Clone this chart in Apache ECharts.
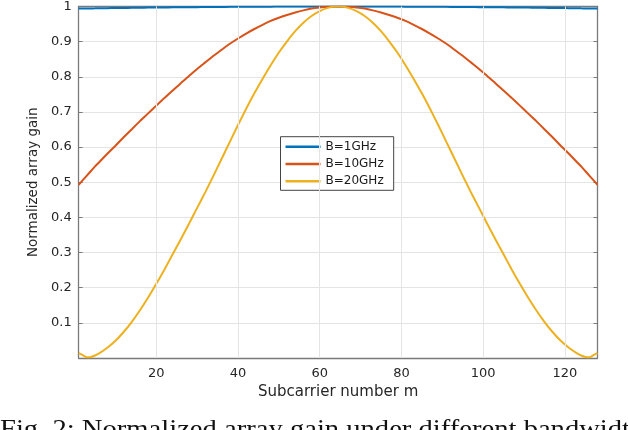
<!DOCTYPE html>
<html>
<head>
<meta charset="utf-8">
<script src="https://cdn.jsdelivr.net/npm/echarts@6/dist/echarts.min.js"></script>
<style>html,body{margin:0;padding:0;background:#fff;}#c{width:628px;height:430px;}</style>
</head>
<body>
<div id="c"></div>
<script>
// Subcarrier indices
var subcarriers = [1,2,3,4,5,6,8,10,12,14,16,18,20,22,24,26,28,30,32,34,36,38,40,42,44,46,48,50,52,54,56,58,60,62,64,
  65,67,69,71,73,75,77,79,81,83,85,87,89,91,93,95,97,99,101,103,105,107,109,111,113,115,117,119,121,123,124,125,126,127,128];

// B = 1 GHz
var gain1GHz = [0.994,0.9942,0.9944,0.9946,0.9947,0.9949,0.9953,0.9956,0.9959,0.9962,0.9965,0.9968,0.9971,0.9973,0.9976,0.9978,0.998,0.9982,0.9984,0.9986,0.9988,0.999,0.9991,0.9992,0.9994,0.9995,0.9996,0.9997,0.9998,0.9998,0.9999,0.9999,1,1,1,
  1,1,1,0.9999,0.9999,0.9998,0.9998,0.9997,0.9996,0.9995,0.9994,0.9992,0.9991,0.999,0.9988,0.9986,0.9984,0.9982,0.998,0.9978,0.9976,0.9973,0.9971,0.9968,0.9965,0.9962,0.9959,0.9956,0.9953,0.9949,0.9947,0.9946,0.9944,0.9942,0.994];

// B = 10 GHz
var gain10GHz = [0.493,0.506,0.519,0.532,0.545,0.557,0.581,0.604,0.628,0.651,0.674,0.696,0.718,0.74,0.761,0.782,0.802,0.822,0.841,0.86,0.877,0.894,0.909,0.923,0.936,0.948,0.959,0.968,0.976,0.983,0.989,0.994,0.997,0.999,1,
  1,0.999,0.997,0.994,0.989,0.983,0.976,0.968,0.959,0.948,0.936,0.923,0.909,0.894,0.877,0.86,0.841,0.822,0.802,0.782,0.761,0.74,0.718,0.696,0.674,0.651,0.628,0.604,0.581,0.557,0.545,0.532,0.519,0.506,0.493];

// B = 20 GHz
var gain20GHz = [0.014,0.008,0.002,0.003,0.007,0.013,0.029,0.049,0.074,0.103,0.136,0.172,0.211,0.252,0.295,0.338,0.382,0.427,0.472,0.519,0.567,0.615,0.663,0.709,0.753,0.794,0.833,0.869,0.901,0.93,0.954,0.973,0.987,0.996,1,
  1,0.996,0.987,0.973,0.954,0.93,0.901,0.869,0.833,0.794,0.753,0.709,0.663,0.615,0.567,0.519,0.472,0.427,0.382,0.338,0.295,0.252,0.211,0.172,0.136,0.103,0.074,0.049,0.029,0.013,0.007,0.003,0.002,0.008,0.014];

var xTicks = [20,40,60,80,100,120];
var seriesNames = ['B=1GHz','B=10GHz','B=20GHz'];
var seriesColors = ['#0072BD','#D95319','#EDB120'];
var xName = 'Subcarrier number m';
var yName = 'Normalized array gain';
var captionText = 'Fig. 2: Normalized array gain under different bandwidth';

function pairs(vals){ return subcarriers.map(function(m,i){ return [m, vals[i]]; }); }

var axisCol = '#7a7a7a';
var gridCol = '#e4e4e4';
var font = 'DejaVu Sans';
var chart = echarts.init(document.getElementById('c'), null, {renderer:'canvas'});
var allVals = [gain1GHz, gain10GHz, gain20GHz];

var series = [{
  name:'_grid', type:'line', data:[], z:1, silent:true,
  markLine:{
    silent:true, symbol:['none','none'], animation:false,
    label:{show:false},
    lineStyle:{color:gridCol, type:'solid', width:1},
    emphasis:{disabled:true},
    data: xTicks.map(function(v){ return {xAxis:v}; })
  }
}].concat(seriesNames.map(function(n,i){
  return {
    name:n, type:'line', data:pairs(allVals[i]), showSymbol:false, symbol:'none',
    smooth:0.2, lineStyle:{color:seriesColors[i], width:2}, itemStyle:{color:seriesColors[i]},
    z: 3
  };
}));

chart.setOption({
  animation:false,
  backgroundColor:'#fff',
  grid:{left:78.7, right:30.5, top:5, bottom:72, containLabel:false},
  xAxis:[{
    type:'value', min:1, max:128, position:'bottom',
    name:xName, nameLocation:'middle', nameGap:27,
    nameTextStyle:{fontFamily:font, fontSize:15, color:'#262626'},
    axisLine:{show:true, onZero:false, lineStyle:{color:axisCol, width:1.3}},
    axisTick:{show:true, inside:true, length:4, customValues:xTicks, lineStyle:{color:axisCol}},
    axisLabel:{show:true, customValues:xTicks, margin:9, fontFamily:font, fontSize:13, color:'#262626'},
    splitLine:{show:false}
  },{
    type:'value', min:1, max:128, position:'top',
    axisLine:{show:true, onZero:false, lineStyle:{color:axisCol, width:1.3}},
    axisTick:{show:true, inside:true, length:4, customValues:xTicks, lineStyle:{color:axisCol}},
    axisLabel:{show:false},
    splitLine:{show:false}
  }],
  yAxis:[{
    type:'value', min:0, max:1, interval:0.1, position:'left',
    name:yName, nameLocation:'middle', nameGap:37,
    nameTextStyle:{fontFamily:font, fontSize:13.5, color:'#262626'},
    axisLine:{show:true, onZero:false, lineStyle:{color:axisCol, width:1.3}},
    axisTick:{show:true, inside:true, length:4, lineStyle:{color:axisCol}},
    axisLabel:{margin:7, fontFamily:font, fontSize:13, color:'#262626',
      formatter:function(v){ return v===0 ? '' : (Math.round(v*10)/10).toString(); }},
    splitLine:{show:true, lineStyle:{color:gridCol, width:1}}
  },{
    type:'value', min:0, max:1, interval:0.1, position:'right',
    axisLine:{show:true, onZero:false, lineStyle:{color:axisCol, width:1.3}},
    axisTick:{show:true, inside:true, length:4, lineStyle:{color:axisCol}},
    axisLabel:{show:false},
    splitLine:{show:false}
  }],
  legend:{
    orient:'vertical', left:280.5, top:136.7,
    backgroundColor:'#fff', borderColor:'#444', borderWidth:1,
    padding:[3,10,2,5], itemGap:3.3, itemWidth:35, itemHeight:2.5,
    icon:'rect',
    textStyle:{fontFamily:font, fontSize:12, color:'#1a1a1a', lineHeight:14},
    data:seriesNames
  },
  graphic:[{
    type:'text', left:0, top:417, scaleX:1.1,
    style:{text:captionText, font:'26px "Liberation Serif"', fill:'#111'}
  }],
  series: series
});
</script>
</body>
</html>
